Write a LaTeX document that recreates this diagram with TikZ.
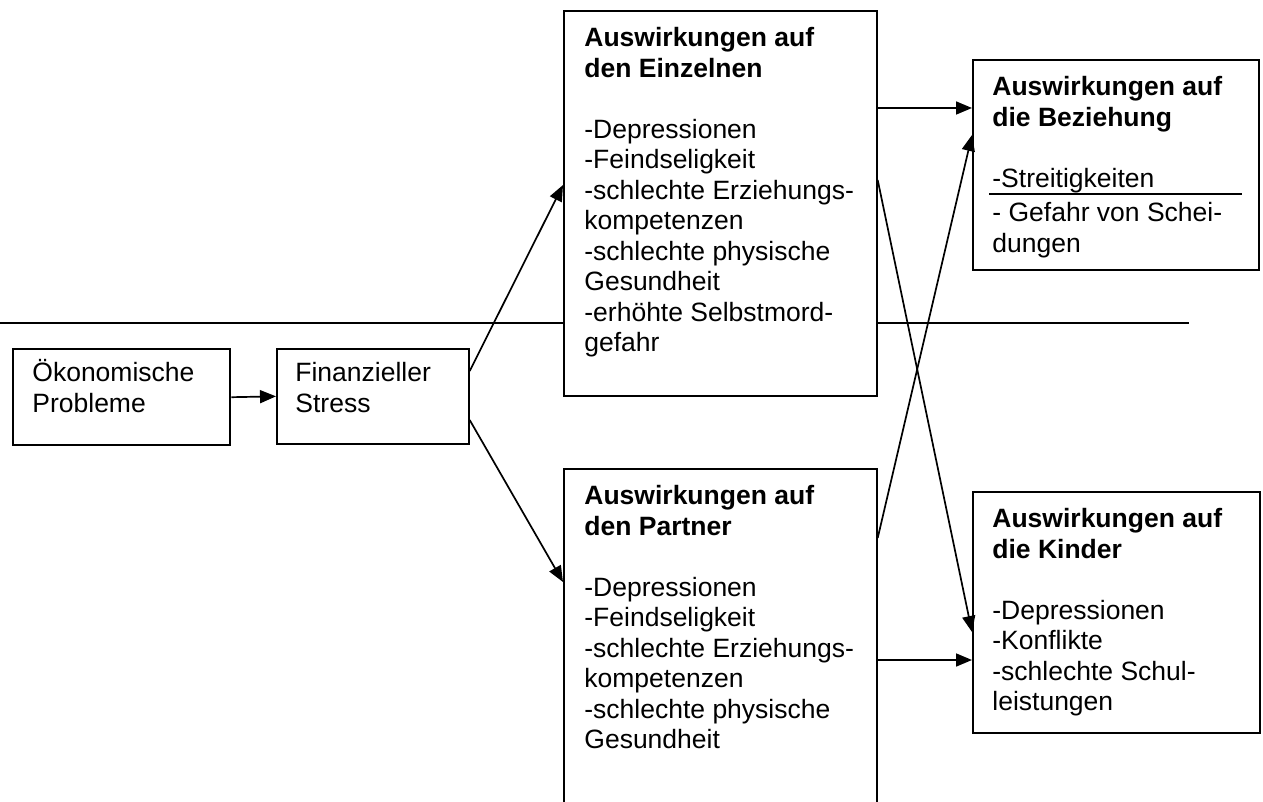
\documentclass[tikz,border=0pt]{standalone}
\usepackage{fontspec}
\setmainfont{Liberation Sans}
\usetikzlibrary{arrows.meta}

\begin{document}
\begin{tikzpicture}[x=0.5pt,y=-0.5pt,
  font=\fontsize{13.25}{15.25}\selectfont,
  kasten/.style={draw,fill=white,line width=0.85pt,anchor=north west,inner sep=0pt},
  inhalt/.style={anchor=north west,align=left,inner sep=0pt},
  pfeil/.style={-{Triangle[length=8pt,width=6.5pt]},line width=0.85pt}]
\useasboundingbox (0,0) rectangle (1263,802);
% Trennlinie
\draw[line width=0.85pt] (0,323) -- (1189,323);
% Kaesten
\node[kasten,line width=1.2pt,minimum width=108.5pt,minimum height=48pt] (oekon) at (12,348) {};
\node[kasten,minimum width=96pt,minimum height=47.5pt] (finanz) at (276,348) {};
\node[kasten,minimum width=156.5pt,minimum height=192.5pt] (einz) at (563,10) {};
\node[kasten,minimum width=156.5pt,minimum height=173.5pt] (partner) at (563,468) {};
\node[kasten,minimum width=143pt,minimum height=105pt] (bez) at (972,59) {};
\node[kasten,minimum width=143.5pt,minimum height=120.5pt] (kinder) at (972,491) {};
% Texte
\node[inhalt] (oekon-txt) at ([shift={(20,11)}]oekon.north west) {Ökonomische\\Probleme};
\node[inhalt] (finanz-txt) at ([shift={(19,14)}]finanz.north west) {Finanzieller\\Stress};
\node[inhalt] (einz-txt) at ([shift={(21,17)}]einz.north west)
  {\textbf{Auswirkungen auf}\\\textbf{den Einzelnen}\\[15.25pt]
   -Depressionen\\-Feindseligkeit\\-schlechte Erziehungs-\\kompetenzen\\
   -schlechte physische\\Gesundheit\\-erhöhte Selbstmord-\\gefahr};
\node[inhalt] (partner-txt) at ([shift={(21,17)}]partner.north west)
  {\textbf{Auswirkungen auf}\\\textbf{den Partner}\\[15.25pt]
   -Depressionen\\-Feindseligkeit\\-schlechte Erziehungs-\\kompetenzen\\
   -schlechte physische\\Gesundheit};
\node[inhalt] (bez-txt) at ([shift={(20,17)}]bez.north west)
  {\textbf{Auswirkungen auf}\\\textbf{die Beziehung}\\[15.25pt]
   -Streitigkeiten\\[2pt]- Gefahr von Schei-\\dungen};
\draw[line width=0.85pt] ([shift={(17,135)}]bez.north west) -- ([shift={(270,135)}]bez.north west);
\node[inhalt] (kinder-txt) at ([shift={(20,17)}]kinder.north west)
  {\textbf{Auswirkungen auf}\\\textbf{die Kinder}\\[15.25pt]
   -Depressionen\\-Konflikte\\-schlechte Schul-\\leistungen};
% Pfeile
\draw[pfeil] (oekon.east) -- (finanz.west);
\draw[pfeil] ([shift={(0,23)}]finanz.north east) -- ([shift={(0,175)}]einz.north west);
\draw[pfeil] ([shift={(0,72)}]finanz.north east) -- ([shift={(0,114)}]partner.north west);
\draw[pfeil] ([shift={(0,98)}]einz.north east) -- ([shift={(0,49)}]bez.north west);
\draw[pfeil] ([shift={(0,170)}]einz.north east) -- ([shift={(0,141)}]kinder.north west);
\draw[pfeil] ([shift={(0,70)}]partner.north east) -- ([shift={(0,76)}]bez.north west);
\draw[pfeil] ([shift={(0,192)}]partner.north east) -- ([shift={(0,169)}]kinder.north west);
\end{tikzpicture}
\end{document}
